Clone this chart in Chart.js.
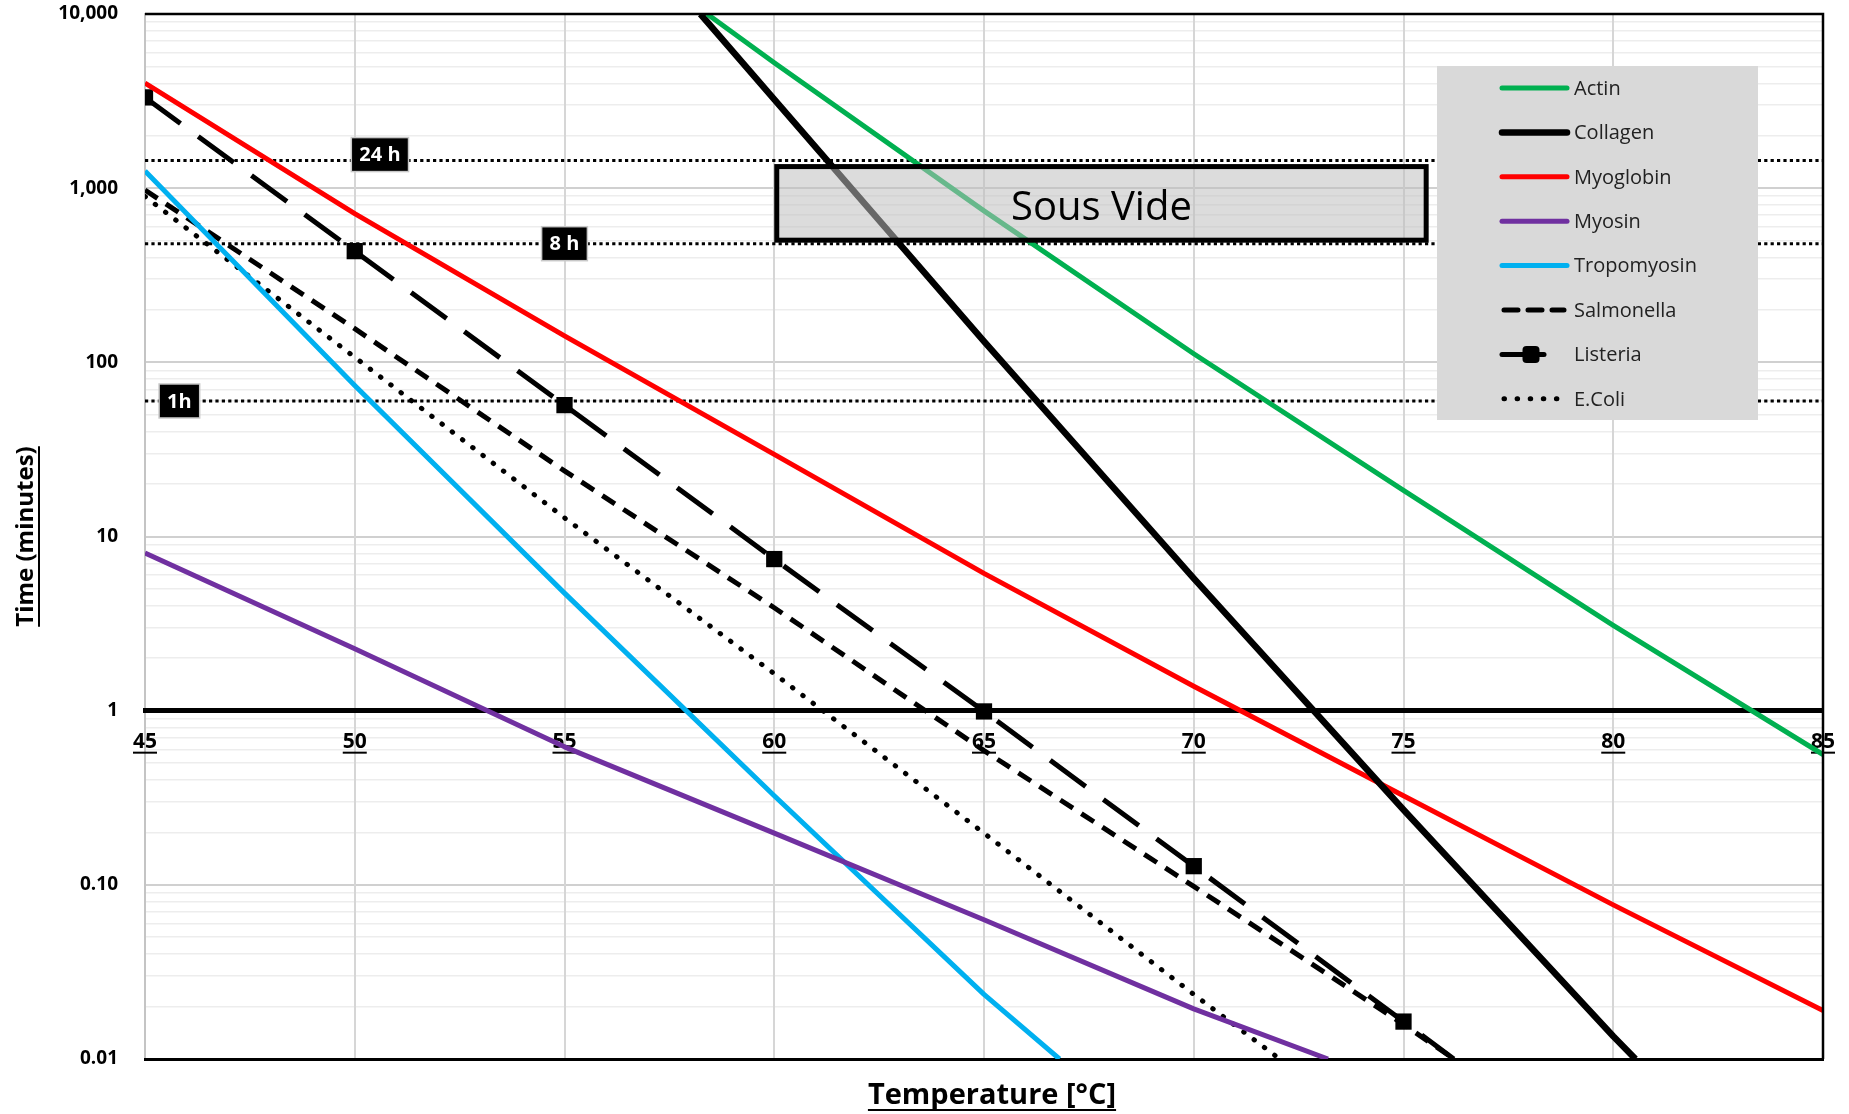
<!DOCTYPE html>
<html>
<head>
<meta charset="utf-8">
<title>Sous vide: time vs temperature</title>
<script src="https://cdn.jsdelivr.net/npm/chart.js@4/dist/chart.umd.min.js"></script>
<style>
  html, body { margin: 0; padding: 0; background: #ffffff; }
  #wrap { width: 1849px; height: 1114px; }
</style>
</head>
<body>
<div id="wrap"><canvas id="chart" width="1849" height="1114"></canvas></div>
<script>
// ---- Data: time (minutes) needed at each temperature (°C) ----
const seriesNames = ['Actin', 'Collagen', 'Myoglobin', 'Myosin', 'Tropomyosin', 'Salmonella', 'Listeria', 'E.Coli'];

const actinTemp = [58.4, 60, 65, 70, 75, 80, 85];
const actinTime = [10000, 5250, 741, 112, 18.4, 3.09, 0.56];

const collagenTemp = [58.24, 60, 65, 70, 75, 80, 80.53];
const collagenTime = [10000, 3236, 132, 5.75, 0.27, 0.0135, 0.01];

const myoglobinTemp = [45, 50, 55, 60, 65, 70, 75, 80, 85];
const myoglobinTime = [4010, 714, 142, 29.6, 6.14, 1.38, 0.325, 0.0767, 0.019];

const myosinTemp = [45, 50, 55, 60, 65, 70, 73.2];
const myosinTime = [8.04, 2.27, 0.62, 0.198, 0.063, 0.0194, 0.01];

const tropomyosinTemp = [45, 50, 55, 60, 65, 66.8];
const tropomyosinTime = [1256, 73.6, 4.73, 0.325, 0.0235, 0.01];

const salmonellaTemp = [45, 50, 55, 60, 65, 70, 75, 76.2];
const salmonellaTime = [975, 156, 23.8, 3.9, 0.59, 0.098, 0.0158, 0.01];

const listeriaTemp = [45, 50, 55, 60, 65, 70, 75, 76.2];
const listeriaTime = [3320, 435, 56.8, 7.42, 0.99, 0.128, 0.0164, 0.01];

const ecoliTemp = [45, 50, 55, 60, 65, 70, 72.05];
const ecoliTime = [896, 107, 12.8, 1.63, 0.198, 0.0235, 0.01];

// Holding-time reference lines (minutes) and their badges
const holdTimes = [1440, 480, 60];
const holdLabels = ['24 h', '8 h', '1h'];

// Sous vide window
const sousVideTemp = [60, 75.6];
const sousVideTime = [480, 1440];
const sousVideLabel = 'Sous Vide';

// Axis ticks
const xTicks = [45, 50, 55, 60, 65, 70, 75, 80, 85];
const yTickValues = [0.01, 0.1, 1, 10, 100, 1000, 10000];
const yTickLabels = ['0.01', '0.10', '1', '10', '100', '1,000', '10,000'];

const xTitle = 'Temperature [°C]';
const yTitle = 'Time (minutes)';

// ---- Helpers ----
const FAM = "'Open Sans', 'DejaVu Sans', sans-serif";
const pts = (t, v) => t.map((x, i) => ({ x: x, y: v[i] }));

const styles = [
  { color: '#00B050', width: 5 },
  { color: '#000000', width: 6.5 },
  { color: '#FF0000', width: 5 },
  { color: '#7030A0', width: 5 },
  { color: '#00B0F0', width: 5 },
  { color: '#000000', width: 5, dash: [15, 10] },
  { color: '#000000', width: 5, dash: [44, 22], marker: true },
  { color: '#000000', width: 5, dash: [0.5, 12.4], cap: 'round' }
];
const seriesTemps = [actinTemp, collagenTemp, myoglobinTemp, myosinTemp, tropomyosinTemp, salmonellaTemp, listeriaTemp, ecoliTemp];
const seriesTimes = [actinTime, collagenTime, myoglobinTime, myosinTime, tropomyosinTime, salmonellaTime, listeriaTime, ecoliTime];

const datasets = seriesNames.map((name, i) => {
  const s = styles[i];
  const data = pts(seriesTemps[i], seriesTimes[i]);
  return {
    label: name,
    data: data,
    borderColor: s.color,
    backgroundColor: s.color,
    borderWidth: s.width,
    borderDash: s.dash || [],
    borderCapStyle: s.cap || 'butt',
    borderJoinStyle: 'round',
    pointStyle: 'rect',
    // markers only on the 5 °C readings
    pointRadius: s.marker ? data.map(p => (Number.isInteger(p.x) ? 11.5 : 0)) : 0,
    pointBorderWidth: 0,
    fill: false,
    tension: 0,
    isSeries: true
  };
});

holdTimes.forEach((t, i) => {
  datasets.push({
    label: holdLabels[i],
    data: [{ x: xTicks[0], y: t }, { x: xTicks[xTicks.length - 1], y: t }],
    borderColor: '#000000',
    borderWidth: 3,
    borderDash: [3.2, 3.2],
    pointRadius: 0,
    fill: false,
    isSeries: false
  });
});

// ---- Decorations drawn on the chart canvas ----
const decor = {
  id: 'decor',
  beforeDatasetsDraw(chart) {
    const { ctx, scales: { x, y } } = chart;
    // underline the temperature tick labels
    ctx.save();
    ctx.font = 'bold 21px ' + FAM;
    ctx.strokeStyle = '#000';
    ctx.lineWidth = 2;
    const yl = y.getPixelForValue(1) + 42;
    x.ticks.forEach(t => {
      const w = ctx.measureText(String(t.value)).width;
      const px = x.getPixelForValue(t.value);
      ctx.beginPath();
      ctx.moveTo(px - w / 2, yl);
      ctx.lineTo(px + w / 2, yl);
      ctx.stroke();
    });
    ctx.restore();
  },
  afterDatasetsDraw(chart) {
    const { ctx, scales: { x, y } } = chart;
    ctx.save();

    // Sous vide window
    const l = x.getPixelForValue(sousVideTemp[0]) + 2.5;
    const r = x.getPixelForValue(sousVideTemp[1]) - 2.5;
    const top = y.getPixelForValue(sousVideTime[1]) + 6;
    const bot = y.getPixelForValue(sousVideTime[0]) - 3.5;
    ctx.fillStyle = 'rgba(190,190,190,0.54)';
    ctx.fillRect(l, top, r - l, bot - top);
    ctx.strokeStyle = '#000';
    ctx.lineWidth = 5;
    ctx.strokeRect(l, top, r - l, bot - top);
    ctx.fillStyle = '#000';
    ctx.font = '40px ' + FAM;
    ctx.textAlign = 'center';
    ctx.textBaseline = 'middle';
    ctx.fillText(sousVideLabel, (l + r) / 2, (top + bot) / 2 + 5);

    // holding-time badges
    const badgeAt = [50.6, 55, 45.82];
    const badgeDy = [-6, 0, 0];
    ctx.font = 'bold 20px ' + FAM;
    holdLabels.forEach((lab, i) => {
      const cx = x.getPixelForValue(badgeAt[i]);
      const cy = y.getPixelForValue(holdTimes[i]) + badgeDy[i];
      const w = ctx.measureText(lab).width + 16;
      const h = 34;
      ctx.fillStyle = '#000';
      ctx.fillRect(cx - w / 2, cy - h / 2, w, h);
      ctx.strokeStyle = '#c8c8c8';
      ctx.lineWidth = 1.5;
      ctx.strokeRect(cx - w / 2, cy - h / 2, w, h);
      ctx.fillStyle = '#fff';
      ctx.fillText(lab, cx, cy + 1);
    });

    // legend
    const lx = 1437, ly = 66, lw = 321, lh = 354;
    ctx.fillStyle = '#D9D9D9';
    ctx.fillRect(lx, ly, lw, lh);
    ctx.textAlign = 'left';
    ctx.textBaseline = 'middle';
    ctx.font = '20px ' + FAM;
    chart.data.datasets.filter(d => d.isSeries).forEach((d, i) => {
      const ry = 88 + i * 44.4;
      const x0 = 1502, x1 = 1567;
      ctx.save();
      ctx.strokeStyle = d.borderColor;
      ctx.lineWidth = d.borderWidth;
      if (d.label === 'Listeria') {
        ctx.lineCap = 'round';
        ctx.beginPath(); ctx.moveTo(x0, ry); ctx.lineTo(1544, ry); ctx.stroke();
        ctx.fillStyle = '#000';
        const s = 17, rr = 4, mx = 1531;
        ctx.beginPath();
        ctx.roundRect(mx - s / 2, ry - s / 2, s, s, rr);
        ctx.fill();
      } else if (d.borderDash && d.borderDash.length) {
        ctx.setLineDash(d.borderDash[0] < 1 ? [0.5, 12.6] : [14, 10]);
        ctx.lineCap = 'round';
        ctx.beginPath();
        ctx.moveTo(x0 + 2, ry);
        ctx.lineTo(x1 - 3, ry);
        ctx.stroke();
      } else {
        ctx.lineCap = 'round';
        ctx.beginPath(); ctx.moveTo(x0, ry); ctx.lineTo(x1, ry); ctx.stroke();
      }
      ctx.restore();
      ctx.fillStyle = '#222';
      ctx.fillText(d.label, 1574, ry + 1);
    });
    ctx.restore();
  },
  afterDraw(chart) {
    const { ctx, chartArea: ca } = chart;
    ctx.save();
    // frame: top and right edges
    ctx.strokeStyle = '#000';
    ctx.lineWidth = 2.5;
    ctx.beginPath();
    ctx.moveTo(ca.left, ca.top);
    ctx.lineTo(ca.right, ca.top);
    ctx.lineTo(ca.right, ca.bottom);
    ctx.stroke();

    // y title (rotated, underlined)
    ctx.fillStyle = '#000';
    ctx.font = 'bold 24px ' + FAM;
    ctx.textAlign = 'center';
    ctx.textBaseline = 'alphabetic';
    ctx.save();
    ctx.translate(33, (ca.top + ca.bottom) / 2);
    ctx.rotate(-Math.PI / 2);
    ctx.fillText(yTitle, 0, 0);
    let w = ctx.measureText(yTitle).width;
    ctx.lineWidth = 2;
    ctx.beginPath(); ctx.moveTo(-w / 2, 6); ctx.lineTo(w / 2, 6); ctx.stroke();
    ctx.restore();

    // x title (underlined)
    ctx.font = 'bold 29px ' + FAM;
    const tx = 992, ty = 1104;
    ctx.fillText(xTitle, tx, ty);
    w = ctx.measureText(xTitle).width;
    ctx.lineWidth = 2;
    ctx.beginPath(); ctx.moveTo(tx - w / 2, ty + 6); ctx.lineTo(tx + w / 2, ty + 6); ctx.stroke();
    ctx.restore();
  }
};

const isDecade = v => yTickValues.some(t => Math.abs(v - t) / t < 1e-9);

new Chart(document.getElementById('chart'), {
  type: 'line',
  data: { datasets: datasets },
  options: {
    responsive: false,
    animation: false,
    layout: { padding: { top: 14, right: 26, left: 0, bottom: 0 } },
    plugins: {
      legend: { display: false },
      tooltip: { enabled: false }
    },
    scales: {
      y: {
        type: 'logarithmic',
        min: yTickValues[0],
        max: yTickValues[yTickValues.length - 1],
        position: 'left',
        afterBuildTicks: (s) => {
          const ticks = [];
          for (let k = -2; k < 4; k++) {
            for (let m = 1; m < 10; m++) ticks.push({ value: +(m * Math.pow(10, k)).toPrecision(6) });
          }
          ticks.push({ value: 10000 });
          s.ticks = ticks;
        },
        afterFit: (s) => {
          s.width = 145;
          s.paddingTop = 0;
          s.paddingBottom = 0;
        },
        grid: {
          drawTicks: false,
          color: (c) => (c.tick && isDecade(c.tick.value) ? '#D0D0D0' : '#EDEDED'),
          lineWidth: (c) => (c.tick && isDecade(c.tick.value) ? 2 : 1.6)
        },
        border: { display: true, color: '#C4C4C4', width: 2 },
        ticks: {
          autoSkip: false,
          padding: 27,
          color: '#000',
          font: { family: FAM, weight: 'bold', size: 19 },
          callback: (v) => {
            const i = yTickValues.findIndex(t => Math.abs(v - t) / t < 1e-9);
            return i >= 0 ? yTickLabels[i] : '';
          }
        }
      },
      x: {
        type: 'linear',
        min: xTicks[0],
        max: xTicks[xTicks.length - 1],
        position: { y: 1 },
        afterBuildTicks: (s) => { s.ticks = xTicks.map(v => ({ value: v })); },
        afterFit: (s) => {
          s.paddingLeft = 0;
          s.paddingRight = 0;
        },
        grid: { drawTicks: false, color: '#D6D6D6', lineWidth: 2 },
        border: { display: true, color: '#000', width: 5 },
        ticks: {
          autoSkip: false,
          maxRotation: 0,
          padding: 19,
          color: '#000',
          font: { family: FAM, weight: 'bold', size: 21 },
          callback: (v) => String(v)
        }
      },
      xb: {
        type: 'linear',
        min: xTicks[0],
        max: xTicks[xTicks.length - 1],
        position: 'bottom',
        grid: { display: false, drawTicks: false },
        ticks: { display: false },
        border: { display: true, color: '#000', width: 3 },
        afterFit: (s) => {
          s.height = 55;
          s.paddingLeft = 0;
          s.paddingRight = 0;
        }
      }
    }
  },
  plugins: [decor]
});
</script>
</body>
</html>
